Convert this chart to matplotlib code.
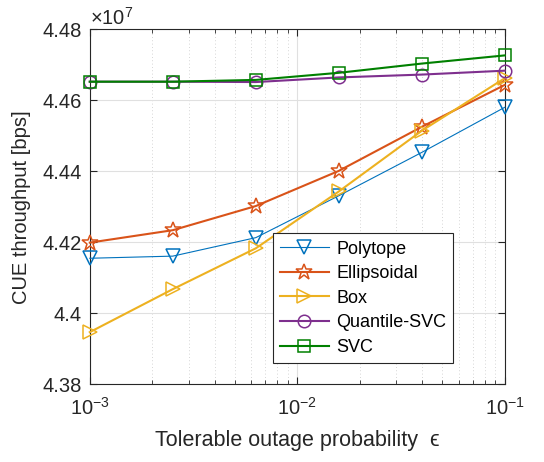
import matplotlib
matplotlib.use("Agg")
from matplotlib import pyplot as plt
from matplotlib.ticker import FuncFormatter, LogLocator, NullFormatter
import numpy as np

plt.rcParams["font.family"] = ["Liberation Sans", "DejaVu Sans"]
plt.rcParams["mathtext.fontset"] = "custom"
plt.rcParams["mathtext.rm"] = "Liberation Sans"

eps = [1e-3, 2.512e-3, 6.31e-3, 1.585e-2, 3.981e-2, 1e-1]
polytope = [4.4155e7, 4.4161e7, 4.4213e7, 4.4331e7, 4.4453e7, 4.4580e7]
ellipsoidal = [4.4199e7, 4.4234e7, 4.4302e7, 4.4401e7, 4.4525e7, 4.4643e7]
box = [4.3947e7, 4.4068e7, 4.4183e7, 4.4343e7, 4.4514e7, 4.4662e7]
quantile_svc = [4.4652e7, 4.4652e7, 4.4651e7, 4.4664e7, 4.4672e7, 4.4683e7]
svc = [4.4652e7, 4.4652e7, 4.4657e7, 4.4677e7, 4.4703e7, 4.4726e7]

names = ["Polytope", "Ellipsoidal", "Box", "Quantile-SVC", "SVC"]
series = [polytope, ellipsoidal, box, quantile_svc, svc]
colors = ["#0072BD", "#D95319", "#EDB120", "#7E2F8E", "#008000"]
markers = ["v", "*", ">", "o", "s"]
widths = [0.8, 1.5, 1.5, 1.5, 1.5]
msizes = [10, 12, 10, 9, 8]

fig = plt.figure(figsize=(5.44, 4.62), dpi=100)
ax = fig.add_axes([0.165, 0.168, 0.763, 0.769])

for name, ys, c, m, lw, ms in zip(names, series, colors, markers, widths, msizes):
    ax.plot(eps, ys, color=c, marker=m, lw=lw, ms=ms, mfc="none",
            mec=c, mew=1.1, label=name, clip_on=False, zorder=3)

ax.set_xscale("log")
ax.set_xlim(1e-3, 1e-1)
ax.set_ylim(4.38e7, 4.48e7)
ax.set_yticks(np.arange(4.38e7, 4.481e7, 0.02e7))
ax.yaxis.set_major_formatter(FuncFormatter(lambda v, p: f"{v/1e7:g}"))
ax.xaxis.set_major_locator(LogLocator(base=10, numticks=10))
ax.xaxis.set_minor_locator(LogLocator(base=10, subs=np.arange(2, 10), numticks=10))
ax.xaxis.set_minor_formatter(NullFormatter())

ax.grid(True, which="major", color="#e0e0e0", lw=0.8)
ax.grid(True, which="minor", axis="x", color="#c8c8c8", lw=0.6, ls=(0, (1, 3)))
ax.set_axisbelow(True)

for s in ax.spines.values():
    s.set_color("#262626")
    s.set_linewidth(0.8)
ax.tick_params(which="both", direction="in", top=True, right=True,
               colors="#262626", labelsize=14.5)
ax.tick_params(which="major", length=5)
ax.tick_params(which="minor", length=3)
ax.tick_params(axis="x", pad=9)
ax.tick_params(axis="y", pad=6)

ax.set_xlabel("Tolerable outage probability  ϵ", fontsize=15.5,
              color="#262626", labelpad=8)
ax.set_ylabel("CUE throughput [bps]", fontsize=14.5, color="#262626", labelpad=8)
ax.text(0.0, 1.0, r"$\times10^{7}$", transform=ax.transAxes, fontsize=14.5,
        color="#262626", va="bottom", ha="left")

leg = ax.legend(loc="lower left", bbox_to_anchor=(0.441, 0.06), fontsize=13,
                fancybox=False, framealpha=1, edgecolor="#262626",
                borderpad=0.4, labelspacing=0.42, handlelength=2.7,
                handletextpad=0.4, borderaxespad=0)
leg.get_frame().set_linewidth(0.8)

fig.savefig("out.png", dpi=100)
